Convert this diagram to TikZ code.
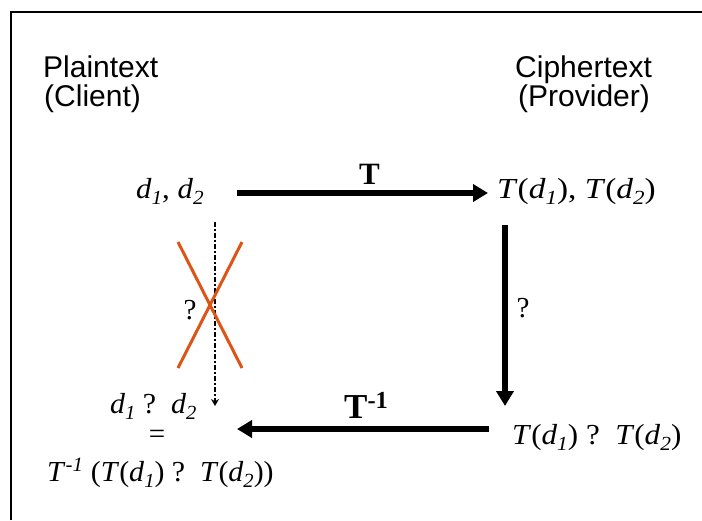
\documentclass[tikz,border=0pt]{standalone}
\usepackage{fontspec}
\usepackage{graphicx}
\setmainfont{Liberation Serif}
\setsansfont{Liberation Sans}
\usetikzlibrary{arrows.meta,calc}
\newcommand\sbs[1]{\raisebox{-6pt}{\fontsize{20}{20}\selectfont\textit{#1}}}
\newcommand\di[1]{\textit{d}\sbs{#1}}
\newcommand\Ti{\textit{T}}
\newcommand\sx[2]{\scalebox{#1}[1]{#2}}
\definecolor{xorange}{RGB}{222,84,22}
\tikzset{
  hdr/.style={font=\sffamily\fontsize{30}{34}\selectfont, inner sep=0pt, anchor=base west},
  mtxt/.style={font=\fontsize{29}{33}\selectfont, inner sep=0pt, anchor=base west},
  blabel/.style={font=\bfseries\fontsize{31}{36}\selectfont, inner sep=0pt, anchor=base west},
  bigarrow/.style={line width=5.5pt, -{Triangle[length=15pt,width=17pt]}},
  dasharrow/.style={line width=2.5pt, dash pattern=on 5pt off 2pt on 2pt off 2pt, -{Stealth[length=7pt,width=8pt]}},
  cross/.style={xorange, line width=3pt},
  frame/.style={line width=2pt}
}
\begin{document}
\begin{tikzpicture}[x=1pt,y=-1pt]
\useasboundingbox (0,0) rectangle (702,520);
\coordinate (f1) at (11,520);
\coordinate (f2) at (11,12);
\coordinate (f3) at (702,12);
\draw[frame] (f1) -- (f2) -- (f3);

\node[hdr] (pl) at (43,77) {Plaintext};
\node[hdr] (cl) at (44,106) {(Client)};
\node[hdr] (ci) at (515,77) {Ciphertext};
\node[hdr] (pr) at (518,106) {(Provider)};

\node[mtxt] (d12) at (136,198) {\sx{1.06}{\di{1}, \di{2}}};
\node[mtxt] (Td) at (497,198) {\sx{1.15}{\Ti(\di{1}), \Ti(\di{2})}};
\node[mtxt] (Tdd) at (512,444) {\sx{1.07}{\Ti(\di{1}) ?\ \ \Ti(\di{2})}};
\node[mtxt] (dd) at (110,413) {\sx{1.03}{\di{1} ?\ \ \di{2}}};
\node[mtxt, anchor=center] (eq) at (157,437) {=};
\node[mtxt] (inv) at (47,481) {\sx{1.03}{\Ti\textsuperscript{\textit{-1}} (\Ti(\di{1}) ?\ \ \Ti(\di{2}))}};

\node[blabel] (TL) at (359,184) {T};
\node[blabel, font=\bfseries\fontsize{35}{40}\selectfont] (TIL) at (344,418) {T\textsuperscript{-1}};
\node[mtxt, anchor=center] (q1) at (523,308) {?};
\node[mtxt, anchor=center] (q2) at (190,310) {?};

% T arrow
\draw[bigarrow] ($(d12.base east)+(33,-5)$) -- ($(Td.base west)+(-9,-5)$);
% right vertical arrow
\coordinate (r1) at (505,225);
\coordinate (r2) at (505,406);
\draw[bigarrow] (r1) -- (r2);
% T^-1 arrow
\coordinate (b1) at (489,429);
\coordinate (b2) at (237,429);
\draw[bigarrow] (b1) -- (b2);
% dash-dot arrow
\coordinate (v1) at (215,222);
\coordinate (v2) at (215,406);
\draw[dasharrow] (v1) -- (v2);
% orange cross
\coordinate (x1) at (178,242);
\coordinate (x2) at (242,368);
\coordinate (x3) at (242,242);
\coordinate (x4) at (178,368);
\draw[cross] (x1) -- (x2);
\draw[cross] (x3) -- (x4);
\end{tikzpicture}
\end{document}
